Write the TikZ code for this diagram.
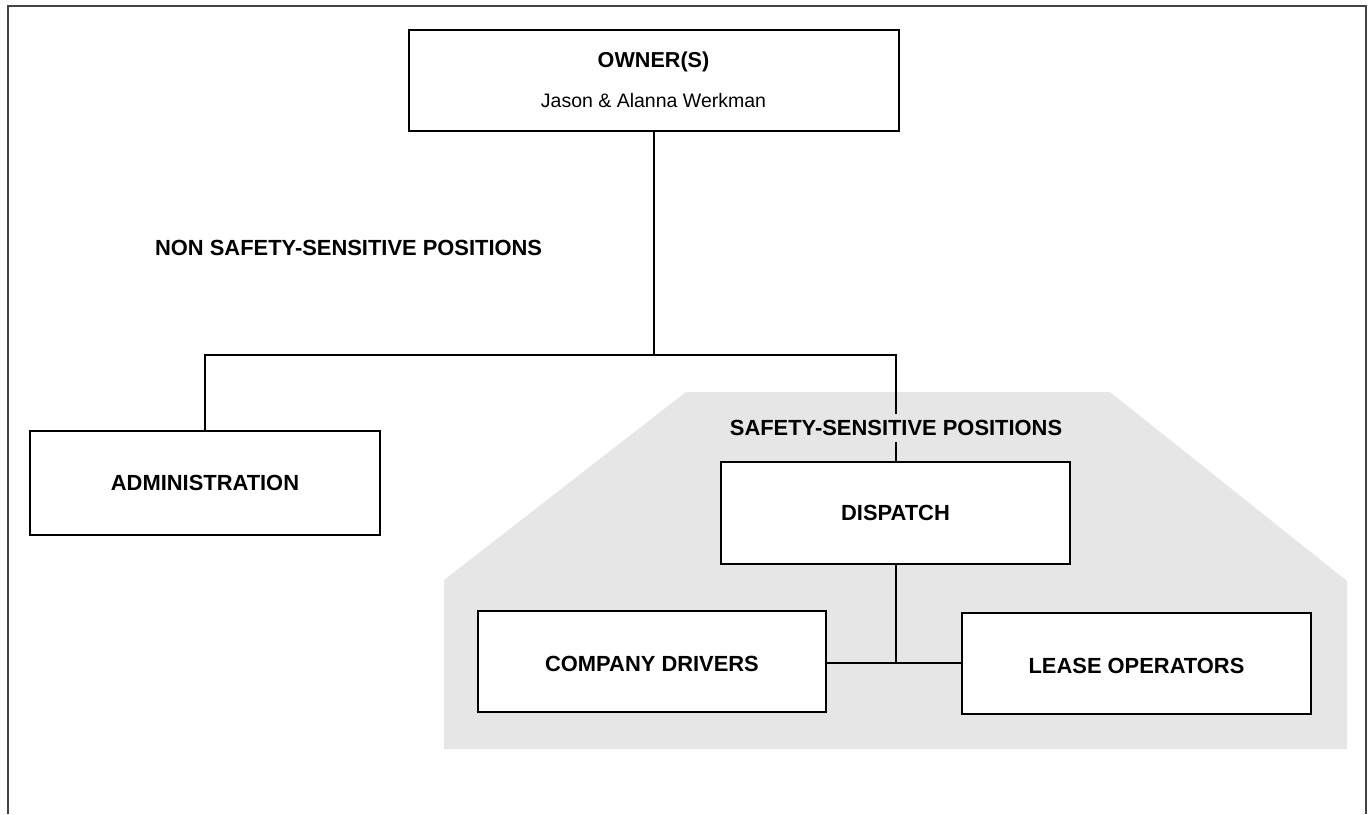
\documentclass[tikz,border=0pt]{standalone}
\usepackage{fontspec}
\setmainfont{Liberation Sans}
\definecolor{graybg}{HTML}{E6E6E6}
\definecolor{framegray}{HTML}{444444}
\newcommand\boldlbl{\fontsize{21.9}{26}\selectfont\bfseries}
\newcommand\lowered[1]{\raisebox{-2pt}[\height][\depth]{#1}}
\begin{document}
\begin{tikzpicture}[x=1pt,y=-1pt,
  box/.style={draw=black, line width=2pt, fill=white, inner sep=0pt, font=\boldlbl},
  conn/.style={draw=black, line width=2pt},
  lbl/.style={font=\boldlbl, inner sep=2pt}]
\useasboundingbox (0,0) rectangle (1368,814);
% page frame (open at bottom)
\draw[line width=2pt, draw=framegray] (7.7,814) -- (7.7,6) -- (1365.5,6) -- (1365.5,814);
% safety-sensitive area
\fill[graybg] (444,580) -- (686,392) -- (1110,392) -- (1347,581) -- (1347,749) -- (444,749) -- cycle;
% boxes
\node[box, minimum width=490pt, minimum height=101pt, align=center,
      font=\fontsize{19.5}{39.6}\selectfont] (owner) at (653.5,80)
  {{\bfseries\fontsize{21.6}{39.6}\selectfont OWNER(S)}\\Jason \& Alanna Werkman};
\node[box, minimum width=350pt, minimum height=104pt] (admin) at (205,483) {ADMINISTRATION};
\node[box, minimum width=349pt, minimum height=102pt] (dispatch) at (895.5,513) {DISPATCH};
\node[box, minimum width=348pt, minimum height=101pt] (company) at (652,661.5) {\lowered{COMPANY DRIVERS}};
\node[box, minimum width=349pt, minimum height=101pt] (lease) at (1136.5,663.5) {\lowered{LEASE OPERATORS}};
% connectors
\coordinate (j) at (653.5,355);
\coordinate (k) at (895.5,662.7);
\draw[conn] (owner.south) -- (j);
\draw[conn] (admin.north) |- (dispatch.north |- j) -- (dispatch.north);
\draw[conn] (dispatch.south) -- (k);
\draw[conn] (company.east |- k) -- (lease.west |- k);
% labels
\node[lbl] (nonsafe) at (348.6,247.5) {NON SAFETY-SENSITIVE POSITIONS};
\node[lbl, fill=graybg, inner ysep=6pt] (safe) at (896,428) {SAFETY-SENSITIVE POSITIONS};
\end{tikzpicture}
\end{document}
